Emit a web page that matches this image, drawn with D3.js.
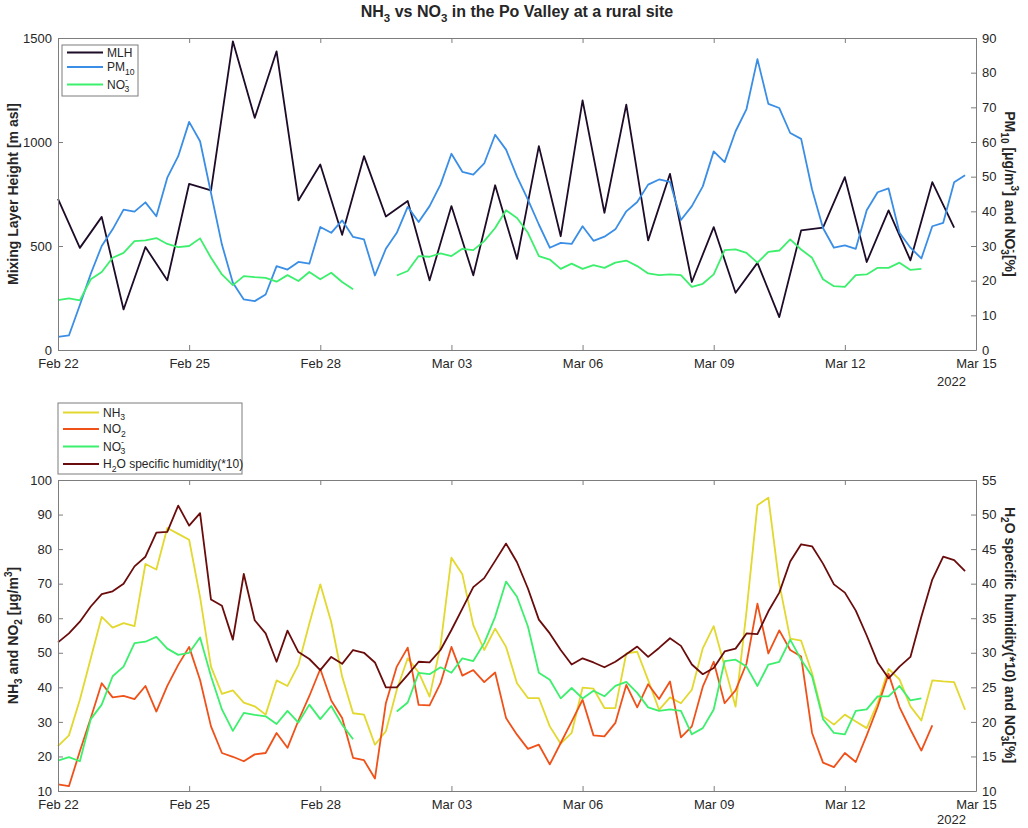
<!DOCTYPE html>
<html>
<head>
<meta charset="utf-8">
<script src="https://cdn.jsdelivr.net/npm/d3@7"></script>
<style>
    body { margin: 0; background: #fff; }
    svg { display: block; }
    text { font-family: "Liberation Sans", Arial, Helvetica, sans-serif; fill: #262626; }
</style>
</head>
<body>
<script>
const WIDTH_SVG = 1028;
const HEIGHT_SVG = 828;

// ---- data (6-hourly from Feb 22 00:00 UTC, MLH is 12-hourly) ----
const START = Date.UTC(2022, 1, 22);
const END = Date.UTC(2022, 2, 15);
const HOUR = 3600 * 1000;

const mlh = [727, 491, 640, 195, 495, 335, 799, 767, 1484, 1116, 1436, 719, 892, 554, 932, 642,
    716, 335, 692, 359, 792, 438, 980, 547, 1200, 660, 1180, 527, 847, 327, 591, 275, 419, 158,
    575, 588, 831, 423, 671, 431, 807, 588];

const pm10 = [3.8, 4.2, 13, 22, 30, 34.8, 40.5, 39.9, 42.6, 38.6, 49.7, 55.9, 65.8, 60.2, 45.3,
    30.4, 19.4, 14.6, 14.1, 16.0, 24.2, 23.2, 25.4, 24.9, 35.5, 33.8, 37.4, 32.6, 31.9, 21.5, 29.2,
    33.8, 41.3, 36.9, 41.5, 47.7, 56.6, 51.4, 50.6, 53.8, 62.1, 57.8, 50, 43.4, 36.2, 29.5, 30.9,
    30.6, 35.7, 31.5, 32.7, 34.8, 40, 42.7, 47.7, 49.2, 48.5, 37.5, 41.5, 47.2, 57.3, 54.2, 63.1,
    69.5, 83.9, 71, 69.8, 62.6, 60.9, 46.3, 35.2, 29.5, 30.2, 29.2, 40.3, 45.5, 46.6, 33.8, 29.5,
    26.4, 35.7, 36.7, 48.4, 50.4];

const no3 = [14.4, 14.9, 14.3, 20.4, 22.5, 26.6, 28.0, 31.4, 31.6, 32.3, 30.6, 29.7, 30.0, 32.2,
    26.6, 21.8, 18.7, 21.3, 21.0, 20.8, 19.7, 21.6, 19.9, 22.5, 20.4, 22.3, 19.6, 17.5, null, null,
    null, 21.5, 22.8, 27.1, 26.9, 27.9, 27.1, 29.2, 28.8, 31.4, 35.2, 40.3, 38.1, 33.8, 27.1, 26.1,
    23.4, 24.9, 23.4, 24.5, 23.7, 25.2, 25.8, 24.2, 22.1, 21.6, 21.8, 21.6, 18.2, 19.1, 21.8, 28.8,
    29.0, 28.0, 25.2, 28.3, 28.7, 31.9, 29.0, 26.6, 20.4, 18.4, 18.2, 21.6, 21.8, 23.7, 23.7, 25.2,
    23.1, 23.4];

const nh3 = [23.0, 26.1, 36.4, 48.4, 60.4, 57.3, 58.6, 57.7, 75.7, 74.1, 86.1, 84.4, 82.7, 66.1,
    46.0, 38.1, 39.1, 35.6, 34.5, 32.1, 42.0, 40.4, 46.5, 58.5, 69.8, 58.9, 43.1, 32.5, 32.1, 23.4,
    27.3, 39.3, 48.4, 44.3, 37.3, 52, 77.5, 72.7, 58.0, 50.8, 57.0, 51.7, 41.2, 36.9, 36.9, 28.7,
    23.7, 26.8, 39.9, 39.6, 34.0, 34.0, 49.8, 50.3, 42.1, 33.5, 37.1, 35.4, 39.3, 51.3, 57.7, 46.0,
    34.4, 62, 92.7, 94.9, 70.0, 54.1, 53.5, 44.1, 31.6, 29.2, 32.1, 30.1, 28.2, 35.4, 45.3, 42.3,
    34.5, 30.4, 42.0, 41.7, 41.5, 33.5];

const no2 = [11.9, 11.4, 21.5, 31.1, 41.2, 37.1, 37.5, 36.6, 40.4, 33.0, 40.4, 46.5, 51.7, 42.1,
    28.7, 21.0, 19.9, 18.6, 20.6, 21.0, 26.8, 22.5, 30.4, 37.5, 45.3, 36.2, 31.1, 19.6, 18.9, 13.6,
    35.4, 46.0, 51.5, 34.9, 34.8, 41.2, 51.7, 43.4, 45.0, 41.5, 44.3, 31.1, 26.3, 22.2, 23.4, 17.7,
    23.9, 30.1, 36.4, 26.1, 25.8, 29.7, 40.7, 34.2, 40.9, 36.6, 41.7, 25.5, 28.7, 40.2, 47.4, 35.4,
    39.1, 46.9, 64.2, 49.8, 56.5, 50.8, 48.9, 26.8, 18.2, 16.9, 21.0, 18.4, 26.1, 34.3, 43.9, 34.3,
    27.8, 21.7, 29.0];

const h2o = [31.5, 32.8, 34.5, 36.7, 38.5, 38.9, 40.0, 42.5, 43.9, 47.4, 47.5, 51.3, 48.4, 50.2,
    37.7, 36.8, 31.9, 41.4, 34.7, 32.8, 28.7, 33.2, 30.1, 29.1, 27.5, 29.4, 28.4, 30.4, 30.0, 28.6,
    25.0, 25.0, 26.8, 28.7, 28.6, 30.4, 33.3, 36.4, 39.5, 40.8, 43.3, 45.8, 43.1, 39.3, 34.8, 32.8,
    30.4, 28.3, 29.2, 28.6, 27.9, 28.7, 29.8, 30.9, 29.4, 30.7, 32.1, 31.0, 28.3, 26.9, 27.8, 30.2,
    30.6, 32.8, 32.7, 36.0, 38.7, 43.2, 45.7, 45.4, 42.9, 39.9, 38.7, 36.1, 32.5, 28.6, 26.3, 28.0,
    29.4, 35.2, 40.6, 43.9, 43.4, 41.8];

const TICK_DAYS = [0, 3, 6, 9, 12, 15, 18, 21];
const TOP_LEFT_TICKS = [0, 500, 1000, 1500];
const TOP_RIGHT_TICKS = [0, 10, 20, 30, 40, 50, 60, 70, 80, 90];
const BOT_LEFT_TICKS = [10, 20, 30, 40, 50, 60, 70, 80, 90, 100];
const BOT_RIGHT_TICKS = [10, 15, 20, 25, 30, 35, 40, 45, 50, 55];

const COLORS = {
    mlh: "#1d0b27",
    pm10: "#3a8ee6",
    no3: "#3cef6c",
    nh3: "#e2d82e",
    no2: "#ef5119",
    h2o: "#6b0c0c"
};

const AXIS_COLOR = "#7d7d7d";
const LINE_W = 1.8;
const PLOT_LEFT = 58;
const PLOT_RIGHT = 976;

const svg = d3.select("body")
    .append("svg")
        .attr("width", WIDTH_SVG)
        .attr("height", HEIGHT_SVG)
        .attr("viewBox", `0 0 ${WIDTH_SVG} ${HEIGHT_SVG}`);

// rich text with sub/superscripts: parts = [{t, sub, sup, dx}]
function rich(textSel, parts, fs) {
    let shift = 0;
    parts.forEach(p => {
        const target = p.sub ? 0.32 * fs : p.sup ? -0.42 * fs : 0;
        const ts = textSel.append("tspan")
            .text(p.t)
            .attr("dy", target - shift);
        if (p.sub || p.sup) ts.attr("font-size", fs * 0.72);
        if (p.dx) ts.attr("dx", p.dx);
        shift = target;
    });
    return textSel;
}

const NO3_PARTS = [{ t: "NO" }, { t: "-", sup: true }, { t: "3", sub: true, dx: -3.5 }];

const series = (vals, stepHours) => vals.map((v, i) => ({ date: new Date(START + i * stepHours * HOUR), v: v }));

const x = d3.scaleUtc()
    .domain([new Date(START), new Date(END)])
    .range([PLOT_LEFT, PLOT_RIGHT]);

const dayTicks = TICK_DAYS.map(d => new Date(START + d * 24 * HOUR));

function drawPanel(cfg) {
    const g = svg.append("g");
    const yL = d3.scaleLinear().domain(cfg.leftDomain).range([cfg.bottom, cfg.top]);
    const yR = d3.scaleLinear().domain(cfg.rightDomain).range([cfg.bottom, cfg.top]);

    // lines
    cfg.lines.forEach(l => {
        const y = l.axis === "left" ? yL : yR;
        const line = d3.line()
            .defined(d => d.v != null)
            .x(d => x(d.date))
            .y(d => y(d.v));
        g.append("path")
            .datum(series(l.values, l.step))
            .attr("fill", "none")
            .attr("stroke", l.color)
            .attr("stroke-width", LINE_W)
            .attr("stroke-linejoin", "round")
            .attr("d", line);
    });

    // axes (box style, ticks inward)
    const styleAxis = a => {
        a.selectAll(".domain, .tick line").attr("stroke", AXIS_COLOR);
        a.selectAll("text").attr("font-size", 13).attr("fill", "#262626")
            .attr("font-family", '"Liberation Sans", Arial, sans-serif');
    };
    g.append("g").attr("transform", `translate(0,${cfg.bottom})`)
        .call(d3.axisBottom(x).tickValues(dayTicks).tickFormat(d3.utcFormat("%b %d"))
            .tickSizeInner(-5).tickSizeOuter(0).tickPadding(9))
        .call(styleAxis);
    g.append("g").attr("transform", `translate(0,${cfg.top})`)
        .call(d3.axisTop(x).tickValues(dayTicks).tickFormat("")
            .tickSizeInner(-5).tickSizeOuter(0))
        .call(styleAxis);
    g.append("g").attr("transform", `translate(${PLOT_LEFT},0)`)
        .call(d3.axisLeft(yL).tickValues(cfg.leftTicks).tickFormat(d3.format("d"))
            .tickSizeInner(-5).tickSizeOuter(0).tickPadding(6))
        .call(styleAxis);
    g.append("g").attr("transform", `translate(${PLOT_RIGHT},0)`)
        .call(d3.axisRight(yR).tickValues(cfg.rightTicks).tickFormat(d3.format("d"))
            .tickSizeInner(-5).tickSizeOuter(0).tickPadding(6))
        .call(styleAxis);

    // year label under last tick
    g.append("text")
        .attr("x", 966)
        .attr("y", cfg.yearY)
        .attr("text-anchor", "end")
        .attr("font-size", 13)
        .text("2022");

    // y labels
    const midY = (cfg.top + cfg.bottom) / 2;
    rich(g.append("text")
        .attr("transform", `translate(18,${cfg.leftLabelY || midY}) rotate(-90)`)
        .attr("text-anchor", "middle")
        .attr("font-size", 14)
        .attr("font-weight", "bold"), cfg.leftLabel, 14);
    rich(g.append("text")
        .attr("transform", `translate(1005,${cfg.rightLabelY || midY}) rotate(90)`)
        .attr("text-anchor", "middle")
        .attr("font-size", 14)
        .attr("font-weight", "bold"), cfg.rightLabel, 14);

    // legend
    const lg = cfg.legend;
    g.append("rect")
        .attr("x", lg.x).attr("y", lg.y)
        .attr("width", lg.w).attr("height", lg.h)
        .attr("fill", "#fff")
        .attr("stroke", AXIS_COLOR)
        .attr("stroke-width", 1);
    lg.items.forEach(it => {
        g.append("line")
            .attr("x1", lg.x + 5).attr("x2", lg.x + 41)
            .attr("y1", it.y).attr("y2", it.y)
            .attr("stroke", it.color)
            .attr("stroke-width", LINE_W);
        rich(g.append("text")
            .attr("x", lg.x + 45)
            .attr("y", it.y + 4)
            .attr("font-size", 12), it.parts, 12);
    });
}

// title
rich(svg.append("text")
    .attr("x", 517)
    .attr("y", 17)
    .attr("text-anchor", "middle")
    .attr("font-size", 16)
    .attr("font-weight", "bold"),
    [{ t: "NH" }, { t: "3", sub: true }, { t: " vs NO" }, { t: "3", sub: true }, { t: " in the Po Valley at a rural site" }], 16);

drawPanel({
    top: 38, bottom: 350, yearY: 386,
    leftDomain: [0, 1500], rightDomain: [0, 90],
    leftTicks: TOP_LEFT_TICKS, rightTicks: TOP_RIGHT_TICKS,
    lines: [
        { values: mlh, step: 12, axis: "left", color: COLORS.mlh },
        { values: pm10, step: 6, axis: "right", color: COLORS.pm10 },
        { values: no3, step: 6, axis: "right", color: COLORS.no3 }
    ],
    leftLabel: [{ t: "Mixing Layer Height [m asl]" }],
    rightLabel: [{ t: "PM" }, { t: "10", sub: true }, { t: " [μg/m" }, { t: "3", sup: true }, { t: "] and " }]
        .concat(NO3_PARTS).concat([{ t: "[%]" }]),
    legend: {
        x: 62, y: 45, w: 76, h: 51,
        items: [
            { y: 52.5, color: COLORS.mlh, parts: [{ t: "MLH" }] },
            { y: 67, color: COLORS.pm10, parts: [{ t: "PM" }, { t: "10", sub: true }] },
            { y: 84.5, color: COLORS.no3, parts: NO3_PARTS }
        ]
    }
});

drawPanel({
    top: 480, bottom: 791, yearY: 824,
    leftDomain: [10, 100], rightDomain: [10, 55],
    leftTicks: BOT_LEFT_TICKS, rightTicks: BOT_RIGHT_TICKS,
    lines: [
        { values: nh3, step: 6, axis: "left", color: COLORS.nh3 },
        { values: no2, step: 6, axis: "left", color: COLORS.no2 },
        { values: no3, step: 6, axis: "right", color: COLORS.no3 },
        { values: h2o, step: 6, axis: "right", color: COLORS.h2o }
    ],
    leftLabel: [{ t: "NH" }, { t: "3", sub: true }, { t: " and NO" }, { t: "2", sub: true }, { t: " [μg/m" }, { t: "3", sup: true }, { t: "]" }],
    rightLabel: [{ t: "H" }, { t: "2", sub: true }, { t: "O specific humidity(*10) and " }]
        .concat(NO3_PARTS).concat([{ t: "[%]" }]),
    rightLabelY: 635,
    legend: {
        x: 58, y: 403, w: 184, h: 71,
        items: [
            { y: 412.5, color: COLORS.nh3, parts: [{ t: "NH" }, { t: "3", sub: true }] },
            { y: 429, color: COLORS.no2, parts: [{ t: "NO" }, { t: "2", sub: true }] },
            { y: 446.5, color: COLORS.no3, parts: NO3_PARTS },
            { y: 464, color: COLORS.h2o, parts: [{ t: "H" }, { t: "2", sub: true }, { t: "O specific humidity(*10)" }] }
        ]
    }
});
</script>
</body>
</html>
